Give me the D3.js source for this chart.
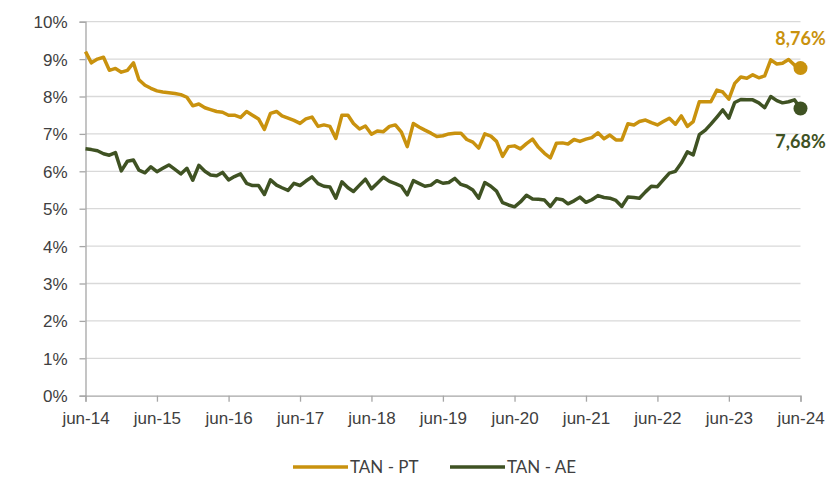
<!DOCTYPE html>
<html>
<head>
<meta charset="utf-8">
<script src="https://cdn.jsdelivr.net/npm/d3@7"></script>
<style>
  body { margin: 0; background: #fff; }
  svg { font-family: Lato, "Open Sans", sans-serif; }
  .grid line { stroke: #d9d9d9; stroke-width: 1.3; }
  .axis path, .axis line { stroke: #a6a6a6; stroke-width: 1.3; }
  .axis text { fill: #404040; font-size: 17px; }
</style>
</head>
<body>
<svg width="834" height="480"></svg>
<script>
// monthly values, jun-14 .. jun-24
var startMonth = new Date(2014, 5, 1);

var tanPT = [9.2, 8.9, 9.0, 9.05, 8.7, 8.75, 8.65, 8.7, 8.9, 8.45, 8.3, 8.22,
  8.15, 8.12, 8.1, 8.08, 8.05, 7.98, 7.75, 7.8, 7.7, 7.65, 7.6, 7.58,
  7.5, 7.5, 7.44, 7.6, 7.5, 7.4, 7.12, 7.55, 7.6, 7.48, 7.42, 7.36,
  7.28, 7.4, 7.45, 7.2, 7.24, 7.2, 6.88, 7.5, 7.5, 7.28, 7.13, 7.21,
  6.99, 7.08, 7.06, 7.2, 7.24, 7.05, 6.66, 7.28, 7.18, 7.1, 7.02, 6.93,
  6.95, 7.0, 7.02, 7.02, 6.85, 6.78, 6.62, 7.0, 6.94, 6.8, 6.4, 6.66,
  6.68, 6.6, 6.74, 6.86, 6.64, 6.48, 6.36, 6.75, 6.76, 6.73, 6.85, 6.8,
  6.86, 6.9, 7.03, 6.87, 6.97, 6.84, 6.84, 7.27, 7.24, 7.33, 7.37, 7.3,
  7.24, 7.33, 7.42, 7.26, 7.48, 7.2, 7.33, 7.86, 7.86, 7.86, 8.17, 8.12,
  7.93, 8.35, 8.52, 8.49, 8.58, 8.5, 8.55, 8.98, 8.87, 8.89, 8.99, 8.84,
  8.76];

var tanAE = [6.6, 6.58, 6.55, 6.47, 6.43, 6.5, 6.01, 6.27, 6.3, 6.03, 5.96, 6.12,
  5.99, 6.08, 6.17, 6.05, 5.93, 6.08, 5.76, 6.16, 6.0, 5.9, 5.88, 5.97,
  5.77, 5.86, 5.93, 5.68, 5.62, 5.62, 5.38, 5.77, 5.63, 5.56, 5.49, 5.68,
  5.62, 5.74, 5.85, 5.67, 5.6, 5.58, 5.28, 5.72, 5.56, 5.46, 5.63, 5.79,
  5.53, 5.68, 5.84, 5.73, 5.67, 5.6, 5.37, 5.75, 5.67, 5.6, 5.63, 5.75,
  5.68, 5.7, 5.81, 5.65, 5.6, 5.5, 5.28, 5.7, 5.6, 5.47, 5.16, 5.1,
  5.05, 5.18, 5.36, 5.26, 5.25, 5.23, 5.06, 5.27, 5.24, 5.13, 5.21, 5.31,
  5.17, 5.24, 5.35, 5.3, 5.28, 5.22, 5.06, 5.31, 5.3, 5.28, 5.45, 5.6,
  5.59, 5.77, 5.95, 6.0, 6.22, 6.52, 6.44, 6.98, 7.1, 7.26, 7.45, 7.64,
  7.42, 7.84, 7.92, 7.91, 7.91, 7.83, 7.7, 8.0, 7.89, 7.83, 7.86, 7.91,
  7.68];

var xTickLabels = ["jun-14", "jun-15", "jun-16", "jun-17", "jun-18", "jun-19",
  "jun-20", "jun-21", "jun-22", "jun-23", "jun-24"];
var yTicks = [0, 1, 2, 3, 4, 5, 6, 7, 8, 9, 10];
var seriesNames = ["TAN - PT", "TAN - AE"];
var colors = ["#c9920e", "#3f5223"];

var svg = d3.select("svg");
var margin = {top: 21.7, right: 33.5, bottom: 84.3, left: 85.5},
    width = +svg.attr("width") - margin.left - margin.right,
    height = +svg.attr("height") - margin.top - margin.bottom;

var months = tanPT.map(function(d, i) { return d3.timeMonth.offset(startMonth, i); });
var xTickDates = xTickLabels.map(function(d, i) { return d3.timeYear.offset(startMonth, i); });

var x = d3.scaleTime().domain([startMonth, months[months.length - 1]]).range([0, width]);
var y = d3.scaleLinear().domain([0, 10]).range([height, 0]);

var g = svg.append("g")
    .attr("transform", "translate(" + margin.left + "," + margin.top + ")");

g.append("g")
    .attr("class", "grid")
    .selectAll("line")
    .data(yTicks.slice(1))
  .enter().append("line")
    .attr("x1", 0).attr("x2", width)
    .attr("y1", function(d) { return y(d); })
    .attr("y2", function(d) { return y(d); });

var yAxis = g.append("g")
    .attr("class", "axis")
    .call(d3.axisLeft(y).tickValues(yTicks).tickSizeOuter(0).tickSize(6).tickPadding(12)
      .tickFormat(function(d) { return d + "%"; }));
yAxis.selectAll("text").attr("dy", "0.35em");

var xAxis = g.append("g")
    .attr("class", "axis")
    .attr("transform", "translate(0," + height + ")")
    .call(d3.axisBottom(x).tickValues(xTickDates).tickSizeOuter(0).tickSize(6).tickPadding(10)
      .tickFormat(function(d, i) { return xTickLabels[i]; }));

var line = d3.line()
    .x(function(d, i) { return x(months[i]); })
    .y(function(d) { return y(d); });

[tanPT, tanAE].forEach(function(s, k) {
  g.append("path")
      .datum(s)
      .attr("fill", "none")
      .attr("stroke", colors[k])
      .attr("stroke-width", 3.5)
      .attr("stroke-linejoin", "round")
      .attr("d", line);

  var last = s.length - 1;
  g.append("circle")
      .attr("cx", x(months[last]))
      .attr("cy", y(s[last]))
      .attr("r", 7)
      .attr("fill", colors[k]);

  g.append("text")
      .attr("x", x(months[last]))
      .attr("y", k === 0 ? y(s[last]) - 23 : y(s[last]) + 40)
      .attr("text-anchor", "middle")
      .attr("font-size", "18px")
      .attr("font-weight", "bold")
      .attr("fill", colors[k])
      .text(s[last].toFixed(2).replace(".", ",") + "%");
});

// legend (kept just inside the bottom edge)
var legend = svg.append("g").attr("transform", "translate(293,467)");
var legendX = [0, 157];
seriesNames.forEach(function(name, k) {
  var lg = legend.append("g").attr("transform", "translate(" + legendX[k] + ",0)");
  lg.append("line")
      .attr("x1", 0).attr("x2", 55)
      .attr("stroke", colors[k])
      .attr("stroke-width", 3.5);
  lg.append("text")
      .attr("x", 57)
      .attr("y", 6)
      .attr("font-size", "17px")
      .attr("fill", "#404040")
      .text(name);
});
</script>
</body>
</html>
